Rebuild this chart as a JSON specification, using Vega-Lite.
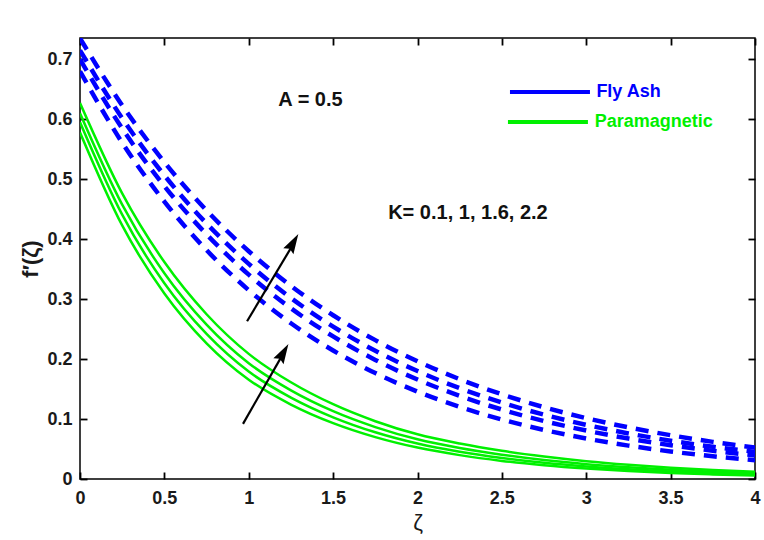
{
  "$schema": "https://vega.github.io/schema/vega-lite/v6.json",
  "width": 675,
  "height": 441,
  "autosize": {"type": "none"},
  "padding": {"left": 80, "top": 38, "right": 9, "bottom": 61},
  "background": "white",
  "config": {
    "view": {"stroke": "black", "strokeWidth": 1.5},
    "font": "Liberation Sans",
    "axis": {"grid": false, "domain": false, "tickColor": "black", "tickWidth": 1.8, "labelColor": "#1a1a1a", "labelFont": "Liberation Sans", "labelFontWeight": "bold", "labelFontSize": 18, "labelFlush": false, "zindex": 1}
  },
  "datasets": {
    "curves": [
      {"m":"Fly Ash","k":"0.1","x":0,"y":0.68},{"m":"Fly Ash","k":"0.1","x":0.25,"y":0.5609},{"m":"Fly Ash","k":"0.1","x":0.5,"y":0.4627},{"m":"Fly Ash","k":"0.1","x":0.75,"y":0.3817},{"m":"Fly Ash","k":"0.1","x":1,"y":0.3149},{"m":"Fly Ash","k":"0.1","x":1.25,"y":0.2597},{"m":"Fly Ash","k":"0.1","x":1.5,"y":0.2143},{"m":"Fly Ash","k":"0.1","x":1.75,"y":0.1767},{"m":"Fly Ash","k":"0.1","x":2,"y":0.1458},{"m":"Fly Ash","k":"0.1","x":2.25,"y":0.1203},{"m":"Fly Ash","k":"0.1","x":2.5,"y":0.0992},{"m":"Fly Ash","k":"0.1","x":2.75,"y":0.0818},{"m":"Fly Ash","k":"0.1","x":3,"y":0.0675},{"m":"Fly Ash","k":"0.1","x":3.25,"y":0.0557},{"m":"Fly Ash","k":"0.1","x":3.5,"y":0.0459},{"m":"Fly Ash","k":"0.1","x":3.75,"y":0.0379},{"m":"Fly Ash","k":"0.1","x":4,"y":0.0313},
      {"m":"Fly Ash","k":"1","x":0,"y":0.70},{"m":"Fly Ash","k":"1","x":0.25,"y":0.5847},{"m":"Fly Ash","k":"1","x":0.5,"y":0.4884},{"m":"Fly Ash","k":"1","x":0.75,"y":0.4080},{"m":"Fly Ash","k":"1","x":1,"y":0.3408},{"m":"Fly Ash","k":"1","x":1.25,"y":0.2847},{"m":"Fly Ash","k":"1","x":1.5,"y":0.2378},{"m":"Fly Ash","k":"1","x":1.75,"y":0.1986},{"m":"Fly Ash","k":"1","x":2,"y":0.1659},{"m":"Fly Ash","k":"1","x":2.25,"y":0.1386},{"m":"Fly Ash","k":"1","x":2.5,"y":0.1158},{"m":"Fly Ash","k":"1","x":2.75,"y":0.0967},{"m":"Fly Ash","k":"1","x":3,"y":0.0808},{"m":"Fly Ash","k":"1","x":3.25,"y":0.0675},{"m":"Fly Ash","k":"1","x":3.5,"y":0.0564},{"m":"Fly Ash","k":"1","x":3.75,"y":0.0471},{"m":"Fly Ash","k":"1","x":4,"y":0.0393},
      {"m":"Fly Ash","k":"1.6","x":0,"y":0.715},{"m":"Fly Ash","k":"1.6","x":0.25,"y":0.6017},{"m":"Fly Ash","k":"1.6","x":0.5,"y":0.5064},{"m":"Fly Ash","k":"1.6","x":0.75,"y":0.4262},{"m":"Fly Ash","k":"1.6","x":1,"y":0.3587},{"m":"Fly Ash","k":"1.6","x":1.25,"y":0.3019},{"m":"Fly Ash","k":"1.6","x":1.5,"y":0.2541},{"m":"Fly Ash","k":"1.6","x":1.75,"y":0.2138},{"m":"Fly Ash","k":"1.6","x":2,"y":0.1800},{"m":"Fly Ash","k":"1.6","x":2.25,"y":0.1515},{"m":"Fly Ash","k":"1.6","x":2.5,"y":0.1275},{"m":"Fly Ash","k":"1.6","x":2.75,"y":0.1073},{"m":"Fly Ash","k":"1.6","x":3,"y":0.0903},{"m":"Fly Ash","k":"1.6","x":3.25,"y":0.0760},{"m":"Fly Ash","k":"1.6","x":3.5,"y":0.0639},{"m":"Fly Ash","k":"1.6","x":3.75,"y":0.0538},{"m":"Fly Ash","k":"1.6","x":4,"y":0.0453},
      {"m":"Fly Ash","k":"2.2","x":0,"y":0.735},{"m":"Fly Ash","k":"2.2","x":0.25,"y":0.6232},{"m":"Fly Ash","k":"2.2","x":0.5,"y":0.5284},{"m":"Fly Ash","k":"2.2","x":0.75,"y":0.4480},{"m":"Fly Ash","k":"2.2","x":1,"y":0.3799},{"m":"Fly Ash","k":"2.2","x":1.25,"y":0.3221},{"m":"Fly Ash","k":"2.2","x":1.5,"y":0.2731},{"m":"Fly Ash","k":"2.2","x":1.75,"y":0.2316},{"m":"Fly Ash","k":"2.2","x":2,"y":0.1964},{"m":"Fly Ash","k":"2.2","x":2.25,"y":0.1665},{"m":"Fly Ash","k":"2.2","x":2.5,"y":0.1412},{"m":"Fly Ash","k":"2.2","x":2.75,"y":0.1197},{"m":"Fly Ash","k":"2.2","x":3,"y":0.1015},{"m":"Fly Ash","k":"2.2","x":3.25,"y":0.0861},{"m":"Fly Ash","k":"2.2","x":3.5,"y":0.0730},{"m":"Fly Ash","k":"2.2","x":3.75,"y":0.0619},{"m":"Fly Ash","k":"2.2","x":4,"y":0.0525},
      {"m":"Paramagnetic","k":"0.1","x":0,"y":0.578},{"m":"Paramagnetic","k":"0.1","x":0.25,"y":0.4229},{"m":"Paramagnetic","k":"0.1","x":0.5,"y":0.3094},{"m":"Paramagnetic","k":"0.1","x":0.75,"y":0.2263},{"m":"Paramagnetic","k":"0.1","x":1,"y":0.1656},{"m":"Paramagnetic","k":"0.1","x":1.25,"y":0.1242},{"m":"Paramagnetic","k":"0.1","x":1.5,"y":0.0932},{"m":"Paramagnetic","k":"0.1","x":1.75,"y":0.0699},{"m":"Paramagnetic","k":"0.1","x":2,"y":0.0524},{"m":"Paramagnetic","k":"0.1","x":2.25,"y":0.0398},{"m":"Paramagnetic","k":"0.1","x":2.5,"y":0.0302},{"m":"Paramagnetic","k":"0.1","x":2.75,"y":0.0230},{"m":"Paramagnetic","k":"0.1","x":3,"y":0.0175},{"m":"Paramagnetic","k":"0.1","x":3.25,"y":0.0133},{"m":"Paramagnetic","k":"0.1","x":3.5,"y":0.0101},{"m":"Paramagnetic","k":"0.1","x":3.75,"y":0.0077},{"m":"Paramagnetic","k":"0.1","x":4,"y":0.0058},
      {"m":"Paramagnetic","k":"1","x":0,"y":0.595},{"m":"Paramagnetic","k":"1","x":0.25,"y":0.4408},{"m":"Paramagnetic","k":"1","x":0.5,"y":0.3265},{"m":"Paramagnetic","k":"1","x":0.75,"y":0.2419},{"m":"Paramagnetic","k":"1","x":1,"y":0.1792},{"m":"Paramagnetic","k":"1","x":1.25,"y":0.1358},{"m":"Paramagnetic","k":"1","x":1.5,"y":0.1029},{"m":"Paramagnetic","k":"1","x":1.75,"y":0.0779},{"m":"Paramagnetic","k":"1","x":2,"y":0.0591},{"m":"Paramagnetic","k":"1","x":2.25,"y":0.0455},{"m":"Paramagnetic","k":"1","x":2.5,"y":0.0351},{"m":"Paramagnetic","k":"1","x":2.75,"y":0.0271},{"m":"Paramagnetic","k":"1","x":3,"y":0.0209},{"m":"Paramagnetic","k":"1","x":3.25,"y":0.0161},{"m":"Paramagnetic","k":"1","x":3.5,"y":0.0125},{"m":"Paramagnetic","k":"1","x":3.75,"y":0.0096},{"m":"Paramagnetic","k":"1","x":4,"y":0.0075},
      {"m":"Paramagnetic","k":"1.6","x":0,"y":0.61},{"m":"Paramagnetic","k":"1.6","x":0.25,"y":0.4576},{"m":"Paramagnetic","k":"1.6","x":0.5,"y":0.3432},{"m":"Paramagnetic","k":"1.6","x":0.75,"y":0.2575},{"m":"Paramagnetic","k":"1.6","x":1,"y":0.1931},{"m":"Paramagnetic","k":"1.6","x":1.25,"y":0.1478},{"m":"Paramagnetic","k":"1.6","x":1.5,"y":0.1131},{"m":"Paramagnetic","k":"1.6","x":1.75,"y":0.0866},{"m":"Paramagnetic","k":"1.6","x":2,"y":0.0662},{"m":"Paramagnetic","k":"1.6","x":2.25,"y":0.0518},{"m":"Paramagnetic","k":"1.6","x":2.5,"y":0.0406},{"m":"Paramagnetic","k":"1.6","x":2.75,"y":0.0317},{"m":"Paramagnetic","k":"1.6","x":3,"y":0.0248},{"m":"Paramagnetic","k":"1.6","x":3.25,"y":0.0195},{"m":"Paramagnetic","k":"1.6","x":3.5,"y":0.0153},{"m":"Paramagnetic","k":"1.6","x":3.75,"y":0.0120},{"m":"Paramagnetic","k":"1.6","x":4,"y":0.0094},
      {"m":"Paramagnetic","k":"2.2","x":0,"y":0.627},{"m":"Paramagnetic","k":"2.2","x":0.25,"y":0.4763},{"m":"Paramagnetic","k":"2.2","x":0.5,"y":0.3618},{"m":"Paramagnetic","k":"2.2","x":0.75,"y":0.2748},{"m":"Paramagnetic","k":"2.2","x":1,"y":0.2087},{"m":"Paramagnetic","k":"2.2","x":1.25,"y":0.1613},{"m":"Paramagnetic","k":"2.2","x":1.5,"y":0.1247},{"m":"Paramagnetic","k":"2.2","x":1.75,"y":0.0964},{"m":"Paramagnetic","k":"2.2","x":2,"y":0.0745},{"m":"Paramagnetic","k":"2.2","x":2.25,"y":0.0592},{"m":"Paramagnetic","k":"2.2","x":2.5,"y":0.0470},{"m":"Paramagnetic","k":"2.2","x":2.75,"y":0.0374},{"m":"Paramagnetic","k":"2.2","x":3,"y":0.0297},{"m":"Paramagnetic","k":"2.2","x":3.25,"y":0.0237},{"m":"Paramagnetic","k":"2.2","x":3.5,"y":0.0189},{"m":"Paramagnetic","k":"2.2","x":3.75,"y":0.0151},{"m":"Paramagnetic","k":"2.2","x":4,"y":0.0121}
    ],
    "arrows": [
      {"x":0.99,"y":0.263,"x2":1.26,"y2":0.39,"hx":1.259,"hy":0.3917},
      {"x":0.966,"y":0.092,"x2":1.20,"y2":0.207,"hx":1.2003,"hy":0.2082}
    ],
    "notes": [
      {"t":"A = 0.5","x":1.366,"y":0.632},
      {"t":"K= 0.1, 1, 1.6, 2.2","x":2.299,"y":0.443}
    ],
    "legend": [
      {"m":"Fly Ash","x":2.548,"x2":3.022,"tx":3.06,"y":0.6455},
      {"m":"Paramagnetic","x":2.536,"x2":3.01,"tx":3.05,"y":0.5955}
    ]
  },
  "layer": [
    {
      "data": {"name": "curves"},
      "transform": [{"filter": "datum.m === 'Paramagnetic'"}],
      "mark": {"type": "line", "interpolate": "monotone", "strokeWidth": 2.5, "clip": true},
      "encoding": {
        "x": {"field": "x", "type": "quantitative", "scale": {"domain": [0, 4], "nice": false}, "axis": {"orient": "bottom", "values": [0,0.5,1,1.5,2,2.5,3,3.5,4], "format": "~g", "tickSize": -7, "labelPadding": 17, "title": "ζ", "titleFontSize": 22, "titleFontWeight": "normal", "titleColor": "#1a1a1a", "titlePadding": 5}},
        "y": {"field": "y", "type": "quantitative", "scale": {"domain": [0, 0.7355], "nice": false}, "axis": {"orient": "left", "values": [0,0.1,0.2,0.3,0.4,0.5,0.6,0.7], "format": "~g", "tickSize": -7, "labelPadding": 15, "title": "f′(ζ)", "titleFontSize": 22, "titleFontWeight": "bold", "titleColor": "#1a1a1a", "titlePadding": 4}},
        "color": {"field": "m", "type": "nominal", "scale": {"domain": ["Fly Ash", "Paramagnetic"], "range": ["#0000ff", "#00f000"]}, "legend": null},
        "detail": {"field": "k"}
      }
    },
    {
      "data": {"name": "curves"},
      "transform": [{"filter": "datum.m === 'Fly Ash'"}],
      "mark": {"type": "line", "interpolate": "monotone", "strokeWidth": 4.5, "strokeDash": [13, 9], "clip": true},
      "encoding": {
        "x": {"field": "x", "type": "quantitative", "scale": {"domain": [0, 4], "nice": false}, "axis": null},
        "y": {"field": "y", "type": "quantitative", "scale": {"domain": [0, 0.7355], "nice": false}, "axis": null},
        "color": {"field": "m", "type": "nominal", "legend": null},
        "detail": {"field": "k"}
      }
    },
    {
      "data": {"name": "arrows"},
      "mark": {"type": "rule", "color": "black", "strokeWidth": 2.2},
      "encoding": {
        "x": {"field": "x", "type": "quantitative", "scale": {"domain": [0, 4], "nice": false}, "axis": null},
        "y": {"field": "y", "type": "quantitative", "scale": {"domain": [0, 0.7355], "nice": false}, "axis": null},
        "x2": {"field": "x2"},
        "y2": {"field": "y2"}
      }
    },
    {
      "data": {"name": "arrows"},
      "mark": {"type": "point", "shape": "M0,-1L0.5,0.7L0,0.45L-0.5,0.7Z", "filled": true, "color": "black", "size": 550, "angle": 30, "opacity": 1},
      "encoding": {
        "x": {"field": "hx", "type": "quantitative", "scale": {"domain": [0, 4], "nice": false}, "axis": null},
        "y": {"field": "hy", "type": "quantitative", "scale": {"domain": [0, 0.7355], "nice": false}, "axis": null}
      }
    },
    {
      "data": {"name": "notes"},
      "mark": {"type": "text", "font": "Liberation Sans", "fontWeight": "bold", "fontSize": 20, "color": "#111", "align": "center", "baseline": "middle"},
      "encoding": {
        "x": {"field": "x", "type": "quantitative", "scale": {"domain": [0, 4], "nice": false}, "axis": null},
        "y": {"field": "y", "type": "quantitative", "scale": {"domain": [0, 0.7355], "nice": false}, "axis": null},
        "text": {"field": "t"}
      }
    },
    {
      "data": {"name": "legend"},
      "mark": {"type": "rule", "strokeWidth": 4},
      "encoding": {
        "x": {"field": "x", "type": "quantitative", "scale": {"domain": [0, 4], "nice": false}, "axis": {"orient": "top", "values": [0,0.5,1,1.5,2,2.5,3,3.5,4], "labels": false, "title": null, "tickSize": -7}},
        "x2": {"field": "x2"},
        "y": {"field": "y", "type": "quantitative", "scale": {"domain": [0, 0.7355], "nice": false}, "axis": {"orient": "right", "values": [0,0.1,0.2,0.3,0.4,0.5,0.6,0.7], "labels": false, "title": null, "tickSize": -7}},
        "color": {"field": "m", "type": "nominal", "legend": null}
      }
    },
    {
      "data": {"name": "legend"},
      "mark": {"type": "text", "font": "Liberation Sans", "fontWeight": "bold", "fontSize": 18, "align": "left", "baseline": "middle"},
      "encoding": {
        "x": {"field": "tx", "type": "quantitative", "scale": {"domain": [0, 4], "nice": false}, "axis": null},
        "y": {"field": "y", "type": "quantitative", "scale": {"domain": [0, 0.7355], "nice": false}, "axis": null},
        "text": {"field": "m"},
        "color": {"field": "m", "type": "nominal", "legend": null}
      }
    }
  ]
}
